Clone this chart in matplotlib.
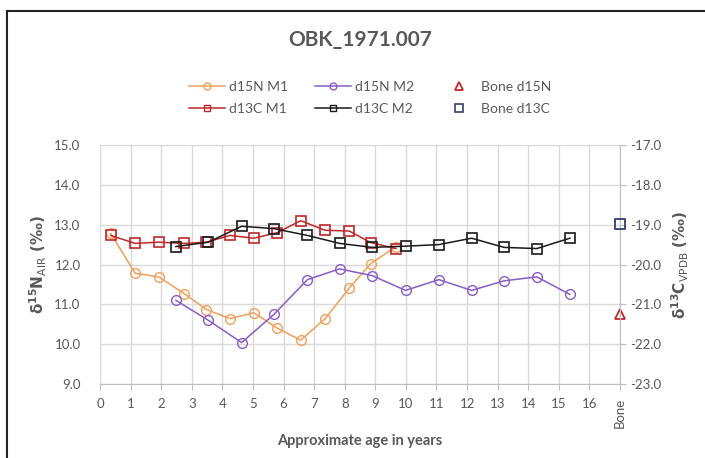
import matplotlib
matplotlib.use("Agg")
import matplotlib.pyplot as plt
from matplotlib.lines import Line2D

plt.rcParams['font.family'] = ['Lato', 'DejaVu Sans']
plt.rcParams['mathtext.fontset'] = 'dejavusans'

TXT = '#595959'

# ---- data ----
age_m1 = [0.35, 1.15, 1.92, 2.75, 3.48, 4.25, 5.03, 5.80, 6.56, 7.36, 8.15, 8.85, 9.67]
d15n_m1 = [12.78, 11.78, 11.69, 11.27, 10.87, 10.64, 10.79, 10.40, 10.10, 10.64, 11.41, 12.02, 12.45]
d13c_m1 = [-19.27, -19.47, -19.44, -19.47, -19.44, -19.27, -19.34, -19.20, -18.90, -19.14, -19.16, -19.45, -19.60]

age_m2 = [2.48, 3.54, 4.63, 5.69, 6.78, 7.83, 8.90, 9.99, 11.08, 12.15, 13.21, 14.28, 15.36]
d15n_m2 = [11.10, 10.60, 10.04, 10.75, 11.62, 11.89, 11.72, 11.35, 11.62, 11.35, 11.59, 11.69, 11.25]
d13c_m2 = [-19.55, -19.44, -19.04, -19.10, -19.27, -19.47, -19.57, -19.54, -19.50, -19.34, -19.57, -19.60, -19.34]

bone_x = [17]
bone_d15n = [10.76]
bone_d13c = [-18.99]

xtick_vals = list(range(0, 18))
xtick_labels = [str(i) for i in range(0, 17)] + ['Bone']
left_ticks = [9.0, 10.0, 11.0, 12.0, 13.0, 14.0, 15.0]
right_ticks = [-23.0, -22.0, -21.0, -20.0, -19.0, -18.0, -17.0]

C_OR = '#f0a05a'
C_PU = '#8a5cc8'
C_RD = '#c0282a'
C_BK = '#1a1a1a'
C_NV = '#2f4468'

fig = plt.figure(figsize=(7.05, 4.58), dpi=100)
ax = fig.add_axes([100/705, 1-384/458, 520/705, 239/458])
ax2 = ax.twinx()

ms = 7
ax.plot(age_m1, d15n_m1, '-o', color=C_OR, mfc='none', mec=C_OR, ms=ms, lw=1.1, zorder=3)
ax.plot(age_m2, d15n_m2, '-o', color=C_PU, mfc='none', mec=C_PU, ms=ms, lw=1.1, zorder=3)
ax.plot(bone_x, bone_d15n, '^', color=C_RD, mfc='none', mec=C_RD, ms=ms, mew=1.3, zorder=3, clip_on=False)
ax2.plot(age_m1, d13c_m1, '-s', color=C_RD, mfc='none', mec=C_RD, ms=ms, lw=1.1, mew=1.2, zorder=3)
ax2.plot(age_m2, d13c_m2, '-s', color=C_BK, mfc='none', mec=C_BK, ms=ms, lw=1.1, mew=1.2, zorder=3)
ax2.plot(bone_x, bone_d13c, 's', color=C_NV, mfc='none', mec=C_NV, ms=ms + 0.5, mew=1.3, zorder=3, clip_on=False)

ax.set_xlim(0, 17)
ax.set_ylim(9, 15)
ax2.set_ylim(-23, -17)

ax.set_xticks(xtick_vals)
ax.set_xticklabels(xtick_labels)
for lbl in ax.get_xticklabels():
    if lbl.get_text() == 'Bone':
        lbl.set_rotation(90)
        lbl.set_va('top')
ax.set_yticks(left_ticks)
ax.set_yticklabels([f'{v:.1f}' for v in left_ticks])
ax2.set_yticks(right_ticks)
ax2.set_yticklabels([f'{v:.1f}' for v in right_ticks])

ax.grid(True, color='#d9d9d9', lw=1)
ax.set_axisbelow(True)
for sp in ['top', 'left']:
    ax.spines[sp].set_visible(False)
    ax2.spines[sp].set_visible(False)
ax.spines['bottom'].set_color('#bfbfbf')
ax.spines['right'].set_visible(False)
ax2.spines['bottom'].set_visible(False)
ax2.spines['right'].set_color('#bfbfbf')

ax.tick_params(axis='x', colors='#bfbfbf', labelcolor=TXT, labelsize=9.5, length=4, pad=6)
ax.tick_params(axis='y', length=0, labelcolor=TXT, labelsize=9.5, pad=14)
ax2.tick_params(axis='y', colors='#bfbfbf', labelcolor=TXT, labelsize=9.5, length=4, pad=3)

ax.set_xlabel('Approximate age in years', color=TXT, fontsize=10.5, fontweight='bold', labelpad=4)
ax.set_ylabel(r'$\mathbf{\delta^{15}N}_{\mathrm{AIR}}\ \mathbf{(‰)}$', color=TXT, fontsize=11, labelpad=4)
ax2.set_ylabel(r'$\mathbf{\delta^{13}C}_{\mathrm{VPDB}}\ \mathbf{(‰)}$', color=TXT, fontsize=11, labelpad=6)

fig.text(360/705, 1-40/458, 'OBK_1971.007', ha='center', va='center', fontsize=15,
         fontweight='bold', color=TXT)

handles = [
    Line2D([], [], color=C_OR, marker='o', mfc='none', mec=C_OR, ms=5, lw=1.1),
    Line2D([], [], color=C_RD, marker='s', mfc='none', mec=C_RD, ms=5, lw=1.1),
    Line2D([], [], color=C_PU, marker='o', mfc='none', mec=C_PU, ms=5, lw=1.1),
    Line2D([], [], color=C_BK, marker='s', mfc='none', mec=C_BK, ms=5, lw=1.1),
    Line2D([], [], color=C_RD, marker='^', mfc='none', mec=C_RD, ms=6, lw=0, mew=1.3),
    Line2D([], [], color=C_NV, marker='s', mfc='none', mec=C_NV, ms=6, lw=0, mew=1.2),
]
labels = ['d15N M1', 'd13C M1', 'd15N M2', 'd13C M2', 'Bone d15N', 'Bone d13C']
leg = fig.legend(handles, labels, ncol=3, loc='center', bbox_to_anchor=(370/705, 1-98/458),
                 frameon=False, fontsize=10, handlelength=2.6, columnspacing=1.9,
                 labelspacing=0.7, handletextpad=0.3)
for t in leg.get_texts():
    t.set_color(TXT)

# chart border (left and top visible)
fig.add_artist(Line2D([7/705, 7/705], [0, 1-11/458], color='#222222', lw=1.5, transform=fig.transFigure))
fig.add_artist(Line2D([7/705, 1], [1-11/458, 1-11/458], color='#222222', lw=1.5, transform=fig.transFigure))

fig.savefig('out.png', dpi=100)
